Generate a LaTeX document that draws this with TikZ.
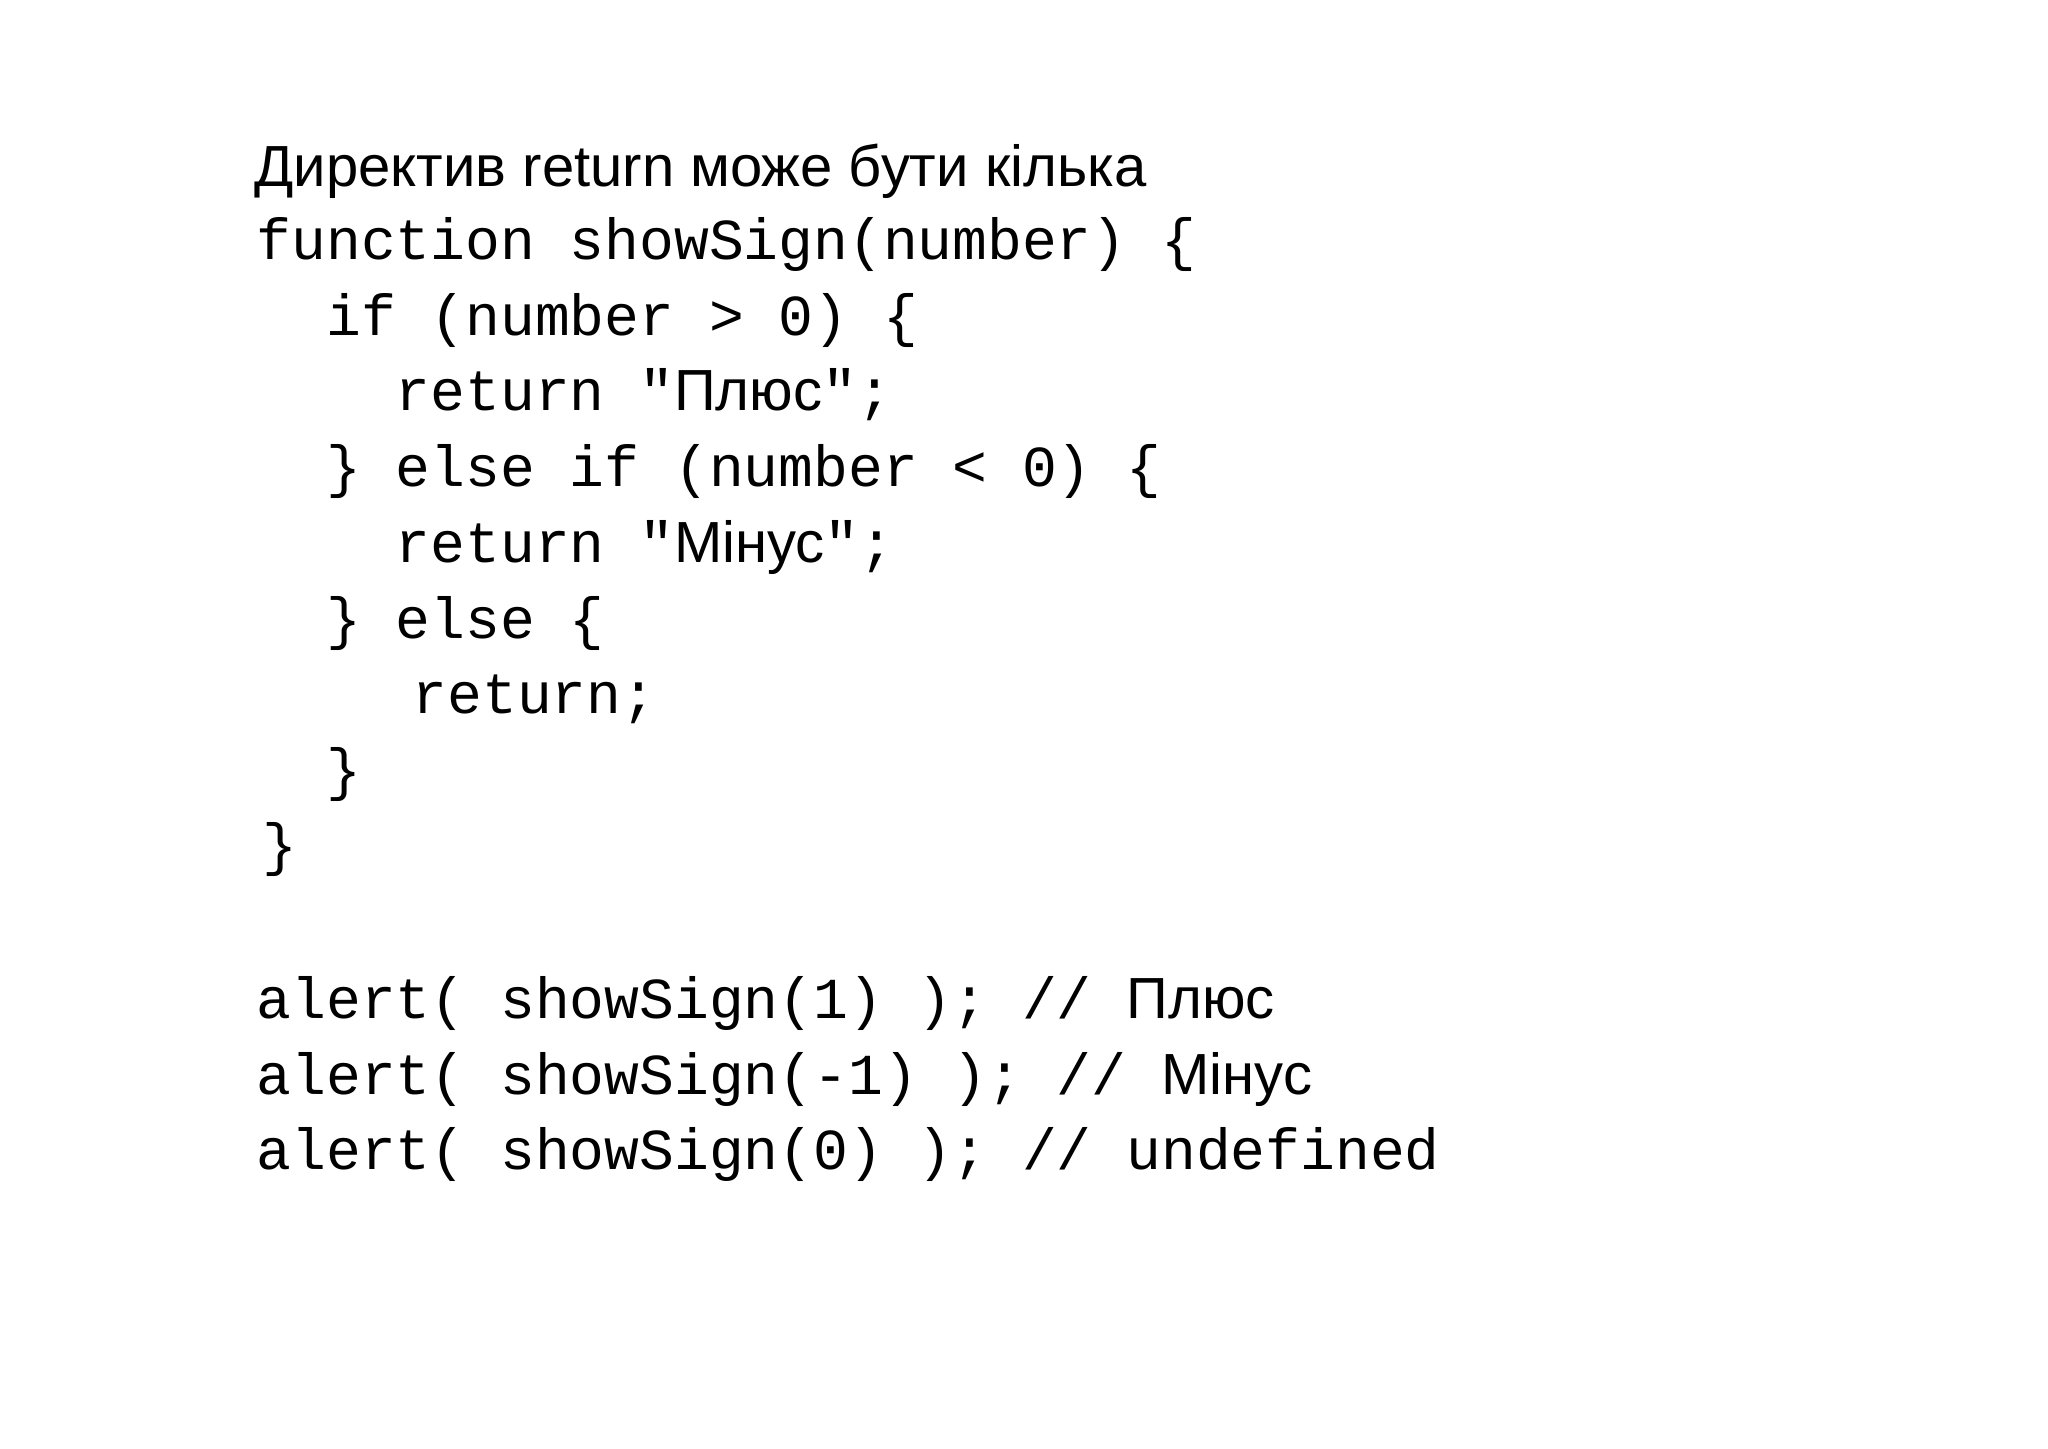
\documentclass[tikz,border=0pt]{standalone}
\usepackage{fontspec}
\setmainfont{Liberation Sans}
\setmonofont{Liberation Mono}
\usetikzlibrary{positioning}
\newcommand{\cy}[1]{{\rmfamily #1}}
\begin{document}
\begin{tikzpicture}
  [code/.style={anchor=base west, inner sep=0pt, font=\fontsize{16.5}{20}\ttfamily},
   head/.style={anchor=base west, inner sep=0pt, font=\fontsize{16.5}{20}\rmfamily}
  ]
  \useasboundingbox (0,0) rectangle (20.48,-14.48);
  \node (title) [head] at (2.54,-1.86) {Директив return може бути кілька};
  \path
   (2.56,-2.59)  node (l1) [code] {function showSign(number) \{}
   (2.56,-3.35)  node (l2) [code] {\ \ if (number > 0) \{}
   (2.56,-4.10)  node (l3) [code] {\ \ \ \ return "\cy{Плюс}";}
   (2.56,-4.86)  node (l4) [code] {\ \ \} else if (number < 0) \{}
   (2.56,-5.62)  node (l5) [code] {\ \ \ \ return "\cy{Мінус}";}
   (2.56,-6.38)  node (l6) [code] {\ \ \} else \{}
   (4.12,-7.13)  node (l7) [code] {return;}
   (2.56,-7.89)  node (l8) [code] {\ \ \}}
   (2.62,-8.64)  node (l9) [code] {\}}
   ;
  \path
   (2.56,-10.18) node (a1) [code] {alert( showSign(1) ); // \cy{Плюс}}
   (2.56,-10.94) node (a2) [code] {alert( showSign(-1) ); // \cy{Мінус}}
   (2.56,-11.69) node (a3) [code] {alert( showSign(0) ); // undefined}
   ;
\end{tikzpicture}
\end{document}
